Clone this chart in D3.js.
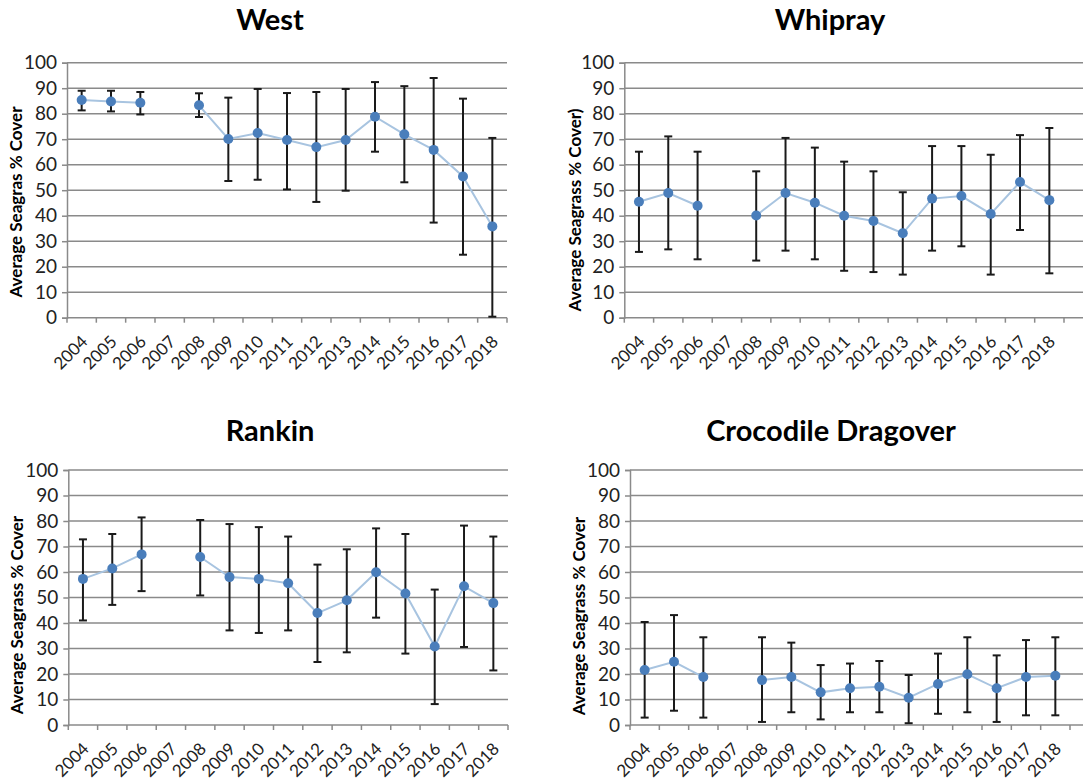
<!DOCTYPE html>
<html lang="en">
<head>
    <meta charset="UTF-8">
    <title>Seagrass cover</title>
    <script src="https://cdn.jsdelivr.net/npm/d3@7"></script>
    <style>
      body { margin: 0; background: #fff; }
      text { font-family: Lato, "Open Sans", sans-serif; }
    </style>
</head>
<body>
<script>
  // categories
  var years = ["2004", "2005", "2006", "2007", "2008", "2009", "2010", "2011",
               "2012", "2013", "2014", "2015", "2016", "2017", "2018"];
  var yTicks = [0, 10, 20, 30, 40, 50, 60, 70, 80, 90, 100];

  // West
  var westMean = [85.4, 84.8, 84.3, null, 83.3, 70.1, 72.4, 69.7, 66.9, 69.7, 78.8, 71.9, 65.8, 55.4, 35.8];
  var westHigh = [89.0, 89.0, 88.5, null, 88.0, 86.3, 89.7, 88.1, 88.5, 89.7, 92.4, 90.8, 94.0, 85.9, 70.5];
  var westLow  = [81.3, 80.9, 79.7, null, 78.7, 53.6, 54.1, 50.3, 45.4, 49.8, 65.1, 53.1, 37.3, 24.7, 0.4];

  // Whipray
  var whiprayMean = [45.5, 48.9, 43.9, null, 40.1, 48.9, 45.1, 40.0, 37.9, 33.1, 46.7, 47.7, 40.7, 53.2, 46.1];
  var whiprayHigh = [65.1, 71.1, 65.1, null, 57.4, 70.5, 66.7, 61.2, 57.4, 49.2, 67.3, 67.3, 63.9, 71.6, 74.4];
  var whiprayLow  = [25.8, 26.8, 22.9, null, 22.4, 26.3, 22.9, 18.4, 17.9, 16.9, 26.3, 28.0, 16.9, 34.4, 17.4];

  // Rankin
  var rankinMean = [57.3, 61.4, 66.9, null, 65.9, 58.0, 57.3, 55.6, 43.9, 48.9, 59.9, 51.6, 30.8, 54.4, 47.8];
  var rankinHigh = [72.8, 74.9, 81.4, null, 80.4, 78.8, 77.6, 73.9, 62.9, 68.9, 77.1, 74.9, 53.1, 78.2, 73.9];
  var rankinLow  = [41.0, 47.1, 52.5, null, 50.8, 37.1, 36.1, 37.1, 24.7, 28.5, 42.1, 28.0, 8.2, 30.6, 21.4];

  // Crocodile Dragover
  var crocMean = [21.6, 24.8, 18.8, null, 17.6, 18.8, 12.8, 14.4, 15.0, 10.7, 16.1, 19.9, 14.4, 18.8, 19.3];
  var crocHigh = [40.4, 43.1, 34.4, null, 34.4, 32.3, 23.5, 24.1, 25.1, 19.6, 28.0, 34.4, 27.3, 33.3, 34.4];
  var crocLow  = [2.9, 5.6, 2.9, null, 1.2, 5.0, 2.2, 5.0, 5.0, 0.7, 4.4, 5.0, 1.2, 3.8, 3.8];

  var svg = d3.select("body").append("svg")
    .attr("width", 1083)
    .attr("height", 782);

  var panels = [
    {title: "West", ylab: "Average Seagras % Cover", mean: westMean, high: westHigh, low: westLow,
     x0: 67, x1: 507, gridEnd: 507, top: 62.7, bottom: 317.7, tx: 270, ty: 30, lx: 22, ly: 202},
    {title: "Whipray", ylab: "Average Seagrass % Cover)", mean: whiprayMean, high: whiprayHigh, low: whiprayLow,
     x0: 624.3, x1: 1064, gridEnd: 1083, top: 62.7, bottom: 317.7, tx: 830, ty: 30, lx: 581, ly: 210},
    {title: "Rankin", ylab: "Average Seagrass % Cover", mean: rankinMean, high: rankinHigh, low: rankinLow,
     x0: 68.3, x1: 508, gridEnd: 508, top: 470, bottom: 725, tx: 270, ty: 441, lx: 23, ly: 615},
    {title: "Crocodile Dragover", ylab: "Average Seagrass % Cover", mean: crocMean, high: crocHigh, low: crocLow,
     x0: 630, x1: 1070, gridEnd: 1083, top: 470, bottom: 725, tx: 831, ty: 441, lx: 585, ly: 616}
  ];

  panels.forEach(drawPanel);

  function drawPanel(p) {
    var g = svg.append("g");

    var x = d3.scaleBand().domain(years).range([p.x0, p.x1]);
    var y = d3.scaleLinear().domain([0, 100]).range([p.bottom, p.top]);

    // gridlines
    g.selectAll("line.grid")
      .data(yTicks.filter(t => t > 0))
      .enter().append("line")
      .attr("x1", p.x0).attr("x2", p.gridEnd)
      .attr("y1", d => y(d)).attr("y2", d => y(d))
      .attr("stroke", "#8a8a8a")
      .attr("stroke-width", 1.5);

    // y axis
    var yAxis = d3.axisLeft(y).tickValues(yTicks).tickSize(5).tickPadding(5);
    var ya = g.append("g").attr("transform", "translate(" + p.x0 + ",0)").call(yAxis);
    ya.select(".domain").attr("stroke", "#8a8a8a").attr("stroke-width", 1.5);
    ya.selectAll(".tick line").attr("stroke", "#8a8a8a").attr("stroke-width", 1.5);
    ya.selectAll(".tick text")
      .attr("font-size", 19)
      .attr("fill", "#222")
      .style("font-family", "Lato, sans-serif");

    // x axis: baseline + ticks on category edges
    g.append("line")
      .attr("x1", p.x0).attr("x2", p.gridEnd)
      .attr("y1", y(0)).attr("y2", y(0))
      .attr("stroke", "#8a8a8a").attr("stroke-width", 1.5);

    var edges = years.map(d => x(d)).concat([p.x1]);
    g.selectAll("line.xt")
      .data(edges)
      .enter().append("line")
      .attr("x1", d => d).attr("x2", d => d)
      .attr("y1", y(0)).attr("y2", y(0) + 5)
      .attr("stroke", "#8a8a8a").attr("stroke-width", 1.5);

    g.selectAll("text.xl")
      .data(years)
      .enter().append("text")
      .attr("transform", d => "translate(" + (x(d) + x.bandwidth() / 2 + 7) + "," + (y(0) + 25) + ") rotate(-45)")
      .attr("text-anchor", "end")
      .attr("font-size", 17)
      .attr("fill", "#222")
      .text(d => d);

    var pts = years.map((d, i) => ({year: d, mean: p.mean[i], high: p.high[i], low: p.low[i]}));
    var cx = d => x(d.year) + x.bandwidth() / 2;

    // connecting line
    var line = d3.line()
      .defined(d => d.mean != null)
      .x(cx)
      .y(d => y(d.mean));

    g.append("path")
      .attr("d", line(pts))
      .attr("fill", "none")
      .attr("stroke", "#a8c4e0")
      .attr("stroke-width", 2);

    // error bars
    var eb = g.selectAll("g.eb")
      .data(pts.filter(d => d.mean != null))
      .enter().append("g")
      .attr("stroke", "#1a1a1a")
      .attr("stroke-width", 2);

    eb.append("line")
      .attr("x1", cx).attr("x2", cx)
      .attr("y1", d => y(d.high)).attr("y2", d => y(d.low));
    eb.append("line")
      .attr("x1", d => cx(d) - 4).attr("x2", d => cx(d) + 4)
      .attr("y1", d => y(d.high)).attr("y2", d => y(d.high));
    eb.append("line")
      .attr("x1", d => cx(d) - 4).attr("x2", d => cx(d) + 4)
      .attr("y1", d => y(d.low)).attr("y2", d => y(d.low));

    // markers
    g.selectAll("circle")
      .data(pts.filter(d => d.mean != null))
      .enter().append("circle")
      .attr("cx", cx)
      .attr("cy", d => y(d.mean))
      .attr("r", 5)
      .attr("fill", "#4a7ebb");

    // title
    g.append("text")
      .attr("x", p.tx).attr("y", p.ty)
      .attr("text-anchor", "middle")
      .attr("font-size", 29)
      .attr("font-weight", "bold")
      .attr("fill", "#000")
      .text(p.title);

    // y label
    g.append("text")
      .attr("transform", "translate(" + p.lx + "," + p.ly + ") rotate(-90)")
      .attr("text-anchor", "middle")
      .attr("font-size", 17)
      .attr("font-weight", "bold")
      .attr("fill", "#000")
      .text(p.ylab);
  }
</script>
</body>
</html>
